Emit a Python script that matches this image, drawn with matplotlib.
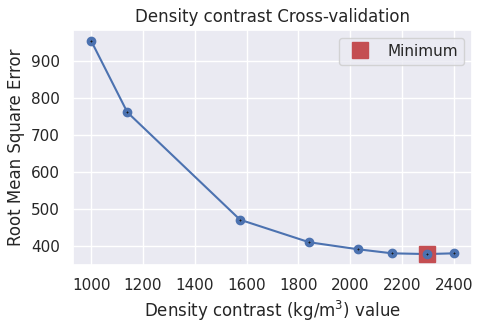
import numpy as np
import matplotlib
matplotlib.use("Agg")
import matplotlib.pyplot as plt
import seaborn as sns

sns.set_theme()

# Valores
densities = [1000, 1140, 1575, 1842, 2030, 2162, 2297, 2400]
rmse = [956, 762, 471, 410, 391, 380, 378, 380]
best = 6

fig, ax = plt.subplots(figsize=(4.83, 3.33), dpi=100)
ax.plot(densities, rmse, '-', color='#4C72B0', linewidth=1.5)
ax.plot(densities[best], rmse[best], 's', color='#C44E52', markersize=11,
        label='Minimum')
ax.plot(densities, rmse, 'o', color='#4C72B0', markersize=6)
ax.plot(densities, rmse, '+', color='k', markersize=2, markeredgewidth=0.7)
ax.legend(loc='upper right', numpoints=1)
ax.set_title('Density contrast Cross-validation')
ax.set_xlabel('Density contrast (kg/m$^3$) value')
ax.set_ylabel('Root Mean Square Error')
ax.set_xticks(np.arange(1000, 2401, 200))
fig.subplots_adjust(left=0.151, right=0.977, top=0.91, bottom=0.205)
fig.savefig('out.png')
